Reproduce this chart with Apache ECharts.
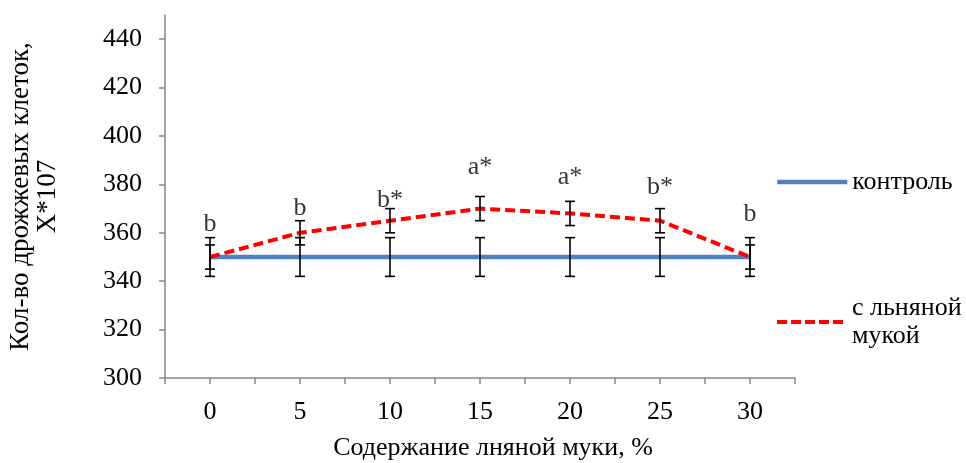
<!DOCTYPE html>
<html><head><meta charset="utf-8">
<script src="https://cdn.jsdelivr.net/npm/echarts@6/dist/echarts.min.js"></script>
<style>html,body{margin:0;padding:0;background:#fff}#c{width:966px;height:463px}</style>
</head><body><div id="c"></div>
<script>
const flourPct = [0, 5, 10, 15, 20, 25, 30];
const control = [350, 350, 350, 350, 350, 350, 350];
const controlErr = [8, 8, 8, 8, 8, 8, 8];
const flax = [350, 360, 365, 370, 368, 365, 350];
const flaxErr = [5, 5, 5, 5, 5, 5, 5];
const sigLetters = ['b', 'b', 'b*', 'a*', 'a*', 'b*', 'b'];
const sigLevel = [363.5, 370, 373.5, 387, 383, 379, 367.5];
const yTicks = [300, 320, 340, 360, 380, 400, 420, 440];
const seriesNames = ['контроль', 'с льняной мукой'];
const xTitle = 'Содержание лняной муки, %';
const yTitle = 'Кол-во дрожжевых клеток,\nX*107';

const FONT = '"Times New Roman", "Liberation Serif", serif';
const FS = 26;

function errRender(params, api) {
  const x = api.value(0), lo = api.value(1), hi = api.value(2);
  const pLo = api.coord([x, lo]), pHi = api.coord([x, hi]);
  const hw = 5;
  const st = { stroke: '#000', lineWidth: 1.6 };
  return { type: 'group', children: [
    { type: 'line', shape: { x1: pLo[0], y1: pLo[1], x2: pHi[0], y2: pHi[1] }, style: st },
    { type: 'line', shape: { x1: pLo[0] - hw, y1: pLo[1], x2: pLo[0] + hw, y2: pLo[1] }, style: st },
    { type: 'line', shape: { x1: pHi[0] - hw, y1: pHi[1], x2: pHi[0] + hw, y2: pHi[1] }, style: st }
  ]};
}

const chart = echarts.init(document.getElementById('c'), null, { renderer: 'canvas' });
chart.setOption({
  animation: false,
  backgroundColor: '#fff',
  textStyle: { fontFamily: FONT },
  grid: { left: 165, right: 171, top: 15, bottom: 85, containLabel: false, outerBoundsMode: 'none' },
  xAxis: {
    type: 'value', min: -2.5, max: 32.5, interval: 2.5,
    name: xTitle, nameLocation: 'middle', nameGap: 57,
    nameTextStyle: { fontFamily: FONT, fontSize: FS, color: '#000', padding: [0, 0, 0, 26] },
    axisLine: { onZero: false, lineStyle: { color: '#868686', width: 1.5 } },
    axisTick: { show: true, length: 6, lineStyle: { color: '#868686', width: 1.5 } },
    axisLabel: { customValues: flourPct, margin: 21, fontFamily: FONT, fontSize: FS, color: '#000' },
    splitLine: { show: false }
  },
  yAxis: {
    type: 'value', min: 300, max: 450, interval: 20,
    name: yTitle, nameLocation: 'middle', nameGap: 104,
    nameTextStyle: { fontFamily: FONT, fontSize: 27, color: '#000', lineHeight: 27, align: 'center' },
    axisLine: { show: true, onZero: false, lineStyle: { color: '#868686', width: 1.5 } },
    axisTick: { show: true, length: 6, customValues: yTicks, lineStyle: { color: '#868686', width: 1.5 } },
    axisLabel: { customValues: yTicks, margin: 23, fontFamily: FONT, fontSize: FS, color: '#000' },
    splitLine: { show: false }
  },
  legend: [
    { data: [seriesNames[0]], orient: 'vertical', left: 775, top: 168, padding: 0,
      itemWidth: 70, itemHeight: 14, itemGap: 0, itemStyle: { opacity: 0 },
      lineStyle: { color: '#4F81BD', width: 4.5 },
      textStyle: { fontFamily: FONT, fontSize: FS, color: '#000', lineHeight: 28 } },
    { data: [seriesNames[1]], orient: 'vertical', left: 775, top: 280, padding: 0,
      itemWidth: 70, itemHeight: 14, itemGap: 0, itemStyle: { opacity: 0 },
      lineStyle: { color: '#FF0000', width: 4, type: [10, 4] },
      formatter: function (n) { return n.replace(' мукой', '\nмукой'); },
      textStyle: { fontFamily: FONT, fontSize: FS, color: '#000', lineHeight: 28, padding: [28, 0, 0, 0] } }
  ],
  series: [
    { name: seriesNames[0], type: 'line', symbol: 'none', z: 2,
      data: flourPct.map((x, i) => [x, control[i]]),
      lineStyle: { color: '#4F81BD', width: 4.5 }, itemStyle: { color: '#4F81BD' } },
    { name: 'errControl', type: 'custom', z: 3, renderItem: errRender,
      encode: { x: 0, y: [1, 2] },
      data: flourPct.map((x, i) => [x, control[i] - controlErr[i], control[i] + controlErr[i]]) },
    { name: seriesNames[1], type: 'line', symbol: 'none', z: 4,
      data: flourPct.map((x, i) => [x, flax[i]]),
      lineStyle: { color: '#FF0000', width: 4, type: [10, 5] }, itemStyle: { color: '#FF0000' } },
    { name: 'errFlax', type: 'custom', z: 5, renderItem: errRender,
      encode: { x: 0, y: [1, 2] },
      data: flourPct.map((x, i) => [x, flax[i] - flaxErr[i], flax[i] + flaxErr[i]]) },
    { name: 'letters', type: 'scatter', symbolSize: 0, z: 6, silent: true,
      data: flourPct.map((x, i) => [x, sigLevel[i], sigLetters[i]]),
      label: { show: true, position: 'inside', formatter: p => p.value[2],
        fontFamily: FONT, fontSize: FS, color: '#000', verticalAlign: 'middle' } }
  ]
});
</script></body></html>
